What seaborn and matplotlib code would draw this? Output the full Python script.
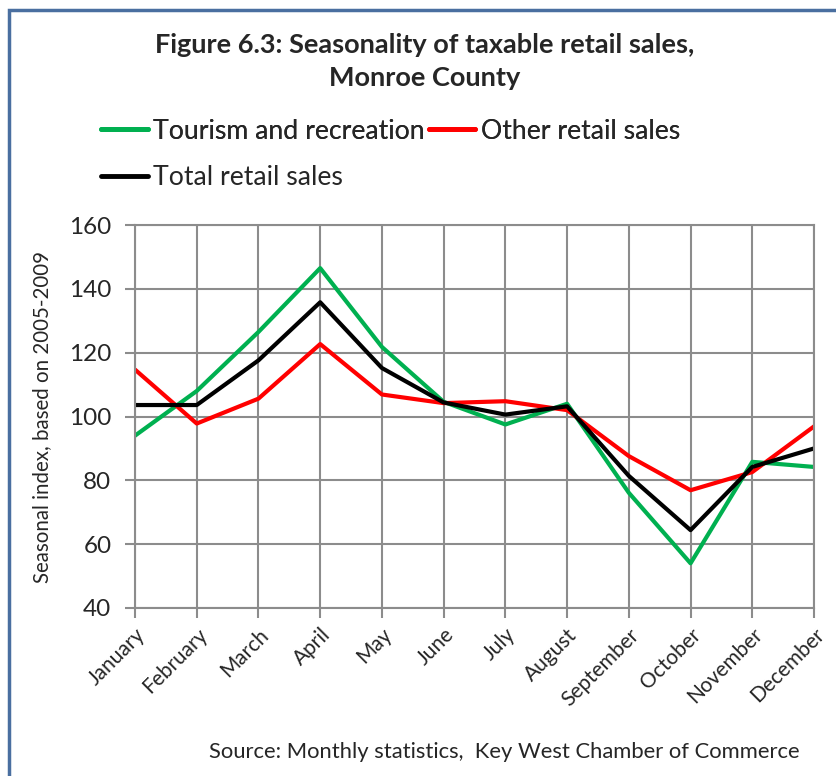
import matplotlib
matplotlib.use("Agg")
import matplotlib.pyplot as plt
from matplotlib.lines import Line2D
from matplotlib.patches import Rectangle
import seaborn as sns
import pandas as pd

months = ["January", "February", "March", "April", "May", "June",
          "July", "August", "September", "October", "November", "December"]
tourism = [94, 108, 126.5, 146.5, 121.8, 104.6, 97.5, 104, 76.1, 54, 85.8, 84.2]
other = [114.7, 97.8, 105.6, 122.7, 106.9, 104.2, 104.8, 102, 87.6, 76.9, 82.6, 96.9]
total = [103.6, 103.6, 117.6, 135.8, 115.2, 104.4, 100.6, 103.2, 81.4, 64.4, 84.2, 90]
series_names = ["Tourism and recreation", "Other retail sales", "Total retail sales"]
series_colors = ["#00B050", "#FF0000", "#000000"]
y_ticks = [40, 60, 80, 100, 120, 140, 160]

df = pd.DataFrame({
    "month": months * 3,
    "pos": list(range(len(months))) * 3,
    "value": tourism + other + total,
    "series": [series_names[0]] * 12 + [series_names[1]] * 12 + [series_names[2]] * 12,
})

sns.set_theme(style="white")
plt.rcParams["font.family"] = ["Lato", "DejaVu Sans"]

fig = plt.figure(figsize=(8.36, 7.76), dpi=100)
ax = fig.add_axes([0.1615, 0.2165, 0.8122, 0.4935])

sns.lineplot(data=df, x="pos", y="value", hue="series", hue_order=series_names,
             palette=series_colors, linewidth=3, legend=False, ax=ax,
             sort=False)

grid_color = "#8C8C8C"
ax.set_xlim(0, len(months) - 1)
ax.set_ylim(40, 160)
ax.set_xticks(range(len(months)))
ax.set_xticklabels(months, rotation=45, ha="right", rotation_mode="anchor",
                   fontsize=15)
ax.set_yticks(y_ticks)
ax.set_yticklabels([str(t) for t in y_ticks], fontsize=17.5)
ax.grid(True, color=grid_color, linewidth=1.5)
ax.set_axisbelow(True)
for s in ax.spines.values():
    s.set_color(grid_color)
    s.set_linewidth(1.5)
ax.tick_params(axis="both", which="major", direction="out", length=7,
               width=1.5, color=grid_color, bottom=True, left=True)
ax.tick_params(axis="x", pad=5)
ax.tick_params(axis="y", pad=10)
ax.set_xlabel("")
ax.set_ylabel("Seasonal index, based on 2005-2009", fontsize=14.8, labelpad=12)

fig.text(0.508, 0.942, "Figure 6.3: Seasonality of taxable retail sales,",
         ha="center", va="center", fontsize=19.5, fontweight="bold")
fig.text(0.508, 0.899, "Monroe County", ha="center", va="center",
         fontsize=19.5, fontweight="bold")

handles = [Line2D([0], [0], color=c, linewidth=3.5) for c in series_colors]
leg1 = fig.legend(handles[:2], series_names[:2], loc="center left",
                  bbox_to_anchor=(0.121, 0.831), ncol=2, frameon=False,
                  fontsize=19.2, handlelength=1.75, handletextpad=0.2,
                  columnspacing=0.15, borderaxespad=0, borderpad=0)
fig.add_artist(leg1)
fig.legend(handles[2:], series_names[2:], loc="center left",
           bbox_to_anchor=(0.121, 0.771), frameon=False, fontsize=19.2,
           handlelength=1.75, handletextpad=0.2, borderaxespad=0, borderpad=0)

fig.text(0.957, 0.031, "Source: Monthly statistics,  Key West Chamber of Commerce",
         ha="right", va="center", fontsize=15.8)

# chart frame
fig.add_artist(Rectangle((0.011, -0.05), 1.2, 1.037, transform=fig.transFigure,
                         fill=False, edgecolor="#4A6FA0", linewidth=2.5))

fig.savefig("out.png", dpi=100)
